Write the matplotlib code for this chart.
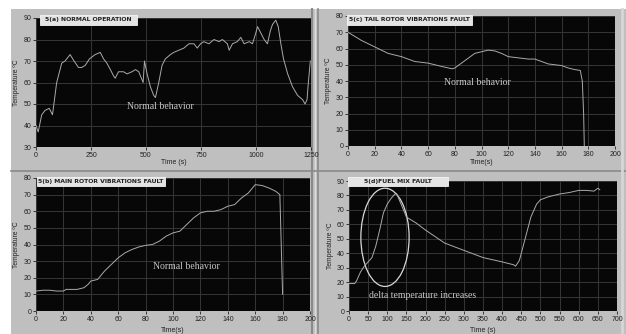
import matplotlib
matplotlib.use("Agg")
import matplotlib.pyplot as plt
from matplotlib.patches import Rectangle, Ellipse
from matplotlib.lines import Line2D

W, H = 626, 334

# ---------------- data ----------------
a_time = [0, 10, 26, 41, 60, 75, 94, 117, 132, 155, 173, 193, 208, 224, 243, 269, 292, 307, 322,
          338, 353, 360, 375, 398, 414, 436, 452, 467, 479, 487, 493, 505, 520, 535, 543, 558, 573,
          588, 611, 626, 649, 672, 695, 718, 733, 748, 763, 786, 809, 832, 847, 870, 878, 893, 915,
          931, 946, 969, 984, 999, 1007, 1022, 1037, 1052, 1065, 1075, 1090, 1101, 1113, 1125, 1144,
          1166, 1189, 1212, 1223, 1232, 1238, 1247]
a_temp = [40, 37, 45, 47, 48, 45, 60, 69, 70, 73, 70, 67, 67, 68, 71, 73, 74, 71, 69,
          66, 63, 62, 65, 65, 64, 65, 66, 65, 62, 60, 70, 64, 58, 54, 53, 60, 68,
          71, 73, 74, 75, 76, 78, 78, 76, 78, 79, 78, 80, 79, 80, 78, 75, 78, 79,
          81, 78, 79, 78, 83, 86, 83, 80, 78, 84, 87, 89, 86, 78, 71, 64,
          58, 54, 52, 50, 52, 60, 70]

c_time = [0, 10, 20, 30, 40, 50, 60, 70, 78, 80, 85, 90, 95, 100, 105, 110, 115, 120, 125, 130,
          135, 140, 145, 150, 155, 160, 165, 170, 174, 175.5, 176.5, 177]
c_temp = [70, 65, 61, 57, 55, 52, 51, 49, 47.5, 48, 51, 54, 57, 58, 59, 58.5, 57, 55, 54.5, 54,
          53.5, 53.5, 52, 50.5, 50, 49.5, 48, 47, 46.5, 40, 20, 0]

b_time = [0, 5, 10, 15, 20, 22, 30, 35, 38, 40, 45, 50, 55, 60, 65, 70, 75, 80, 85, 90, 95, 100,
          105, 110, 115, 120, 125, 130, 135, 140, 145, 150, 155, 160, 165, 170, 175, 178, 179, 180]
b_temp = [12, 12.5, 12.5, 12, 12, 13, 13, 14, 16, 18, 19, 24, 28, 32, 35, 37, 38.5, 39.5, 40, 42,
          45, 47, 48, 52, 56, 59, 60, 60, 61, 63, 64, 68, 71, 76, 75.5, 74, 72, 70, 40, 10]

d_time = [0, 15, 20, 30, 40, 50, 60, 70, 80, 90, 100, 110, 120, 125, 150, 175, 200, 250, 300, 350,
          400, 430, 435, 445, 460, 475, 490, 500, 520, 550, 575, 600, 620, 640, 650, 655]
d_temp = [19, 19, 21, 27, 31, 34, 37, 45, 56, 68, 74, 78, 81, 81, 65, 61, 56, 47, 42, 37,
          34, 32, 31, 35, 50, 65, 74, 77, 79, 81, 82, 83.5, 83.5, 83, 85, 84]

panels = [
    dict(x=a_time, y=a_temp, box=(36, 311, 18, 147), xlim=(0, 1250), ylim=(30, 90),
         xticks=[0, 250, 500, 750, 1000, 1250], yticks=[30, 40, 50, 60, 70, 80, 90],
         xlabel="Time (s)", title="5(a) NORMAL OPERATION", tbox=(40, 137, 15, 25),
         note="Normal behavior", note_xy=(564, 49), ylab_x=17, xlab_y=163),
    dict(x=c_time, y=c_temp, box=(348, 615, 16, 146), xlim=(0, 200), ylim=(0, 80),
         xticks=list(range(0, 201, 20)), yticks=list(range(0, 81, 10)),
         xlabel="Time(s)", title="5(c) TAIL ROTOR VIBRATIONS FAULT", tbox=(347, 472, 15, 25),
         note="Normal behavior", note_xy=(97, 39), ylab_x=329, xlab_y=163),
    dict(x=b_time, y=b_temp, box=(36, 310, 178, 311), xlim=(0, 200), ylim=(0, 80),
         xticks=list(range(0, 201, 20)), yticks=list(range(0, 81, 10)),
         xlabel="Time(s)", title="5(b) MAIN ROTOR VIBRATIONS FAULT", tbox=(37, 165, 177, 186),
         note="Normal behavior", note_xy=(110, 27), ylab_x=17, xlab_y=330),
    dict(x=d_time, y=d_temp, box=(349, 617, 181, 311), xlim=(0, 700), ylim=(0, 90),
         xticks=list(range(0, 701, 50)), yticks=list(range(0, 91, 10)),
         xlabel="Time (s)", title="5(d)FUEL MIX FAULT", tbox=(348, 448, 177, 186),
         note="delta temperature increases", note_xy=(192, 10.5), ylab_x=330, xlab_y=330),
]

BG = "#bfbfbf"
PLOT_BG = "#070707"
GRID = "#363636"
LINE = "#aaaaaa"
TXT = "#222222"

fig = plt.figure(figsize=(W / 100, H / 100), dpi=100)
fig.patch.set_facecolor("white")

def fx(px):
    return px / W

def fy(py):
    return 1 - py / H

fig.patches.append(Rectangle((fx(11), fy(334)), fx(626) - fx(11), fy(9) - fy(334),
                             transform=fig.transFigure, facecolor=BG, edgecolor="none", zorder=-10))
sep = [((312, 312), (9, 334), "#8a8a8a", 1.5), ((315, 315), (9, 334), "#dcdcdc", 1.0),
       ((318, 318), (9, 334), "#8a8a8a", 1.2), ((11, 626), (171, 171), "#8a8a8a", 1.2),
       ((622, 622), (9, 334), "#d6d6d6", 2.0)]
for xs, ys, c, w in sep:
    fig.lines.append(Line2D([fx(xs[0]), fx(xs[1])], [fy(ys[0]), fy(ys[1])],
                            transform=fig.transFigure, color=c, lw=w, zorder=-5))

for p in panels:
    l, r, t, b = p["box"]
    ax = fig.add_axes([fx(l), fy(b), fx(r) - fx(l), fy(t) - fy(b)])
    ax.set_facecolor(PLOT_BG)
    ax.plot(p["x"], p["y"], color=LINE, lw=0.7)
    ax.set_xlim(*p["xlim"])
    ax.set_ylim(*p["ylim"])
    ax.set_xticks(p["xticks"])
    ax.set_yticks(p["yticks"])
    ax.grid(True, color=GRID, lw=0.7)
    ax.set_axisbelow(True)
    for s in ax.spines.values():
        s.set_visible(False)
    ax.tick_params(axis="both", length=2, width=0.6, color=TXT, pad=1.5,
                   labelsize=5, labelcolor=TXT)
    for lab in ax.get_xticklabels() + ax.get_yticklabels():
        lab.set_family("Liberation Sans")
    fig.text(fx(p["ylab_x"]), fy((t + b) / 2), "Temperature \u00baC", rotation=90,
             ha="center", va="center", fontsize=4.8, color=TXT, family="Liberation Sans")
    fig.text(fx((l + r) / 2), fy(p["xlab_y"]), p["xlabel"], ha="center", va="center",
             fontsize=5, color=TXT, family="Liberation Sans")
    bl, br, bt, bb = p["tbox"]
    fig.patches.append(Rectangle((fx(bl), fy(bb)), fx(br) - fx(bl), fy(bt) - fy(bb),
                                 transform=fig.transFigure, facecolor="#e4e4e4",
                                 edgecolor="#f4f4f4", lw=0.6, zorder=5))
    fig.text(fx((bl + br) / 2), fy((bt + bb) / 2), p["title"], ha="center", va="center",
             fontsize=4.4, fontweight="bold", color=TXT, family="DejaVu Sans", zorder=6)
    ax.text(p["note_xy"][0], p["note_xy"][1], p["note"], ha="center", va="center",
            fontsize=7, color="#c8c8c8", family="Liberation Serif")
    if p["title"].startswith("5(d)"):
        ax.add_patch(Ellipse((94, 51), 126, 68, fill=False, edgecolor="#d8d8d8", lw=0.9))

fig.savefig("out.png", dpi=100, facecolor=fig.get_facecolor())
